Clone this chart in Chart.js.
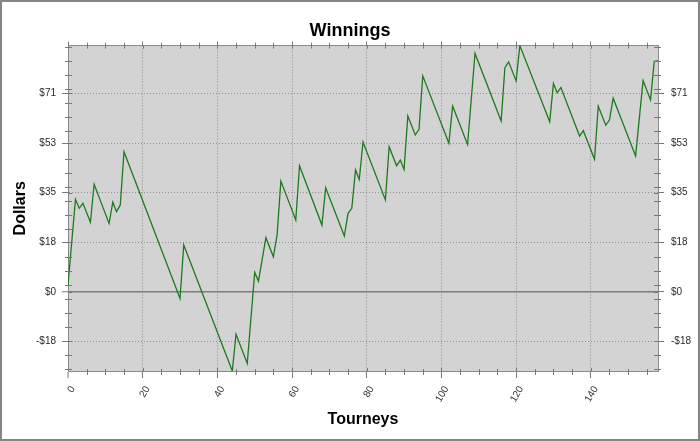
<!DOCTYPE html>
<html>
<head>
<meta charset="utf-8">
<title>Winnings</title>
<script src="https://cdn.jsdelivr.net/npm/chart.js@4.4.1/dist/chart.umd.min.js"></script>
<style>
  html, body { margin: 0; padding: 0; background: #fff; }
  #frame { width: 700px; height: 441px; box-sizing: border-box; border: 2px solid #858585; background: #fff; }
  canvas { display: block; }
</style>
</head>
<body>
<div id="frame"><canvas id="chart" width="696" height="437"></canvas></div>
<script>
// tourney number at each turn of the line and the running total there
const tourneys = [0, 2, 3, 4, 6, 7, 11, 12, 13, 14, 15, 30, 31, 44, 45, 48, 50, 51, 53, 55,
    56, 57, 61, 62, 68, 69, 74, 75, 76, 77, 78, 79, 85, 86, 88, 89, 90, 91, 93, 94,
    95, 102, 103, 107, 109, 116, 117, 118, 120, 121, 129, 130, 131, 132, 137, 138, 141, 142, 144, 145,
    146, 152, 154, 156, 157, 158];
const winnings = [2.4, 33.0, 29.8, 31.6, 24.8, 38.4, 24.4, 32.0, 28.6, 31.0, 50.0, -2.4, 16.7, -28.3, -15.2, -25.6, 6.9, 3.8, 19.3, 12.5,
    20.3, 39.5, 25.6, 45.0, 23.8, 37.1, 19.9, 28.0, 29.8, 43.5, 40.1, 53.5, 32.8, 51.8, 45.0, 47.0, 43.7, 62.8, 56.0, 58.0,
    77.1, 53.0, 66.3, 52.6, 85.1, 61.0, 80.0, 82.1, 75.3, 87.9, 60.7, 74.4, 71.1, 72.9, 55.6, 57.5, 47.3, 66.3, 59.5, 61.3,
    69.1, 48.5, 75.4, 68.5, 82.3, 82.4];

// x axis: labelled ticks and the small ones in between
const xMajor = [0, 20, 40, 60, 80, 100, 120, 140];
const xTickLabels = ['0', '20', '40', '60', '80', '100', '120', '140'];
const xMinor = [5, 10, 15, 25, 30, 35, 45, 50, 55, 65, 70, 75, 85, 90, 95, 105, 110, 115, 125, 130, 135, 145, 150, 155];

// y axis
const yMajor = [-17.7, 0, 17.7, 35.4, 53.1, 70.8];
const yTickLabels = ['-$18', '$0', '$18', '$35', '$53', '$71'];
const yMinor = [-27.5, -22.5, -12.5, -7.5, -2.5, 2.5, 7.5, 12.5, 22.5, 27.5, 32.5, 37.5, 42.5, 47.5,
    57.5, 62.5, 67.5, 72.5, 77.5, 82.5, 87.5];

const X_MIN = 0, X_MAX = 158;
const Y_MIN = -28.3, Y_MAX = 87.9;

const xTicks = xMajor.concat(xMinor).sort((a, b) => a - b);
const yTicks = yMajor.concat(yMinor).sort((a, b) => a - b);

Chart.defaults.font.family = '"Liberation Sans", Arial, sans-serif';

const AXIS = '#8a8a8a';
const TICK = '#777777';

// grey plot area
const plotBackground = {
    id: 'plotBackground',
    beforeDraw(chart) {
        const { ctx, chartArea: a } = chart;
        ctx.save();
        ctx.fillStyle = '#d3d3d3';
        ctx.fillRect(a.left, a.top, a.right - a.left, a.bottom - a.top);
        ctx.restore();
    }
};

// ticks that cross the axis line: inner half of the big ones, and the small ones
const crossTicks = {
    id: 'crossTicks',
    afterDraw(chart) {
        const { ctx, scales } = chart;
        ctx.save();
        ctx.strokeStyle = TICK;
        ctx.lineWidth = 1;
        const marks = (scale, values, out, inn) => {
            values.forEach(v => {
                const p = Math.round(scale.getPixelForValue(v)) + 0.5;
                ctx.beginPath();
                if (scale.position === 'left') {
                    ctx.moveTo(scale.right - out, p); ctx.lineTo(scale.right + inn, p);
                } else if (scale.position === 'right') {
                    ctx.moveTo(scale.left - inn, p); ctx.lineTo(scale.left + out, p);
                } else if (scale.position === 'top') {
                    ctx.moveTo(p, scale.bottom - out); ctx.lineTo(p, scale.bottom + inn);
                } else {
                    ctx.moveTo(p, scale.top - inn); ctx.lineTo(p, scale.top + out);
                }
                ctx.stroke();
            });
        };
        marks(scales.y, yMajor, 0, 4);
        marks(scales.y, yMinor, 3, 4);
        marks(scales.y2, yMajor, 0, 4);
        marks(scales.y2, yMinor, 3, 4);
        marks(scales.x, xMajor, 0, 3);
        marks(scales.x, xMinor, 4, 2);
        marks(scales.x2, xMajor, 0, 3);
        marks(scales.x2, xMinor, 3, 3);
        ctx.restore();
    }
};

const tickVal = (c) => (c && c.tick ? c.tick.value : null);

function gridFor(major, zeroLine) {
    return {
        color: (c) => {
            const v = tickVal(c);
            if (v === null || major.indexOf(v) < 0 || (!zeroLine && v === 0)) return 'rgba(0,0,0,0)';
            if (zeroLine && v === 0) return '#7d7d7d';
            return '#8e8e8e';
        },
        lineWidth: (c) => {
            const v = tickVal(c);
            if (v === null || major.indexOf(v) < 0 || (!zeroLine && v === 0)) return 0;
            return zeroLine && v === 0 ? 1.5 : 1;
        },
        tickColor: (c) => (major.indexOf(tickVal(c)) < 0 ? 'rgba(0,0,0,0)' : TICK),
        tickWidth: 1,
        tickLength: 6
    };
}

const labelFrom = (major, labels) => (v) => {
    const i = major.indexOf(v);
    return i < 0 ? '' : labels[i];
};

new Chart(document.getElementById('chart'), {
    type: 'line',
    data: {
        datasets: [{
            label: 'Winnings',
            data: tourneys.map((t, i) => ({ x: t, y: winnings[i] })),
            borderColor: '#1d7a1d',
            borderWidth: 1.3,
            pointRadius: 0,
            tension: 0,
            fill: false
        }]
    },
    plugins: [plotBackground, crossTicks],
    options: {
        responsive: false,
        animation: false,
        devicePixelRatio: 1,
        layout: { padding: 0 },
        plugins: {
            legend: { display: false },
            tooltip: { enabled: false },
            title: {
                display: true,
                text: 'Winnings',
                color: '#000',
                font: { size: 18, weight: 'bold' },
                padding: { top: 18, bottom: 0 }
            }
        },
        scales: {
            x: {
                type: 'linear',
                position: 'bottom',
                min: X_MIN,
                max: X_MAX,
                afterBuildTicks: (s) => { s.ticks = xTicks.map(v => ({ value: v })); },
                afterFit: (s) => { s.height = 68; },
                ticks: {
                    autoSkip: false,
                    minRotation: 60,
                    maxRotation: 60,
                    padding: 6,
                    labelOffset: 5,
                    color: '#333',
                    font: { size: 10 },
                    callback: labelFrom(xMajor, xTickLabels)
                },
                grid: Object.assign(gridFor(xMajor, false), { tickLength: 7 }),
                border: { color: AXIS, width: 1, dash: [1, 2] },
                title: {
                    display: true,
                    text: 'Tourneys',
                    color: '#000',
                    font: { size: 16, weight: 'bold' },
                    padding: { top: 0, bottom: 10 }
                }
            },
            x2: {
                type: 'linear',
                position: 'top',
                min: X_MIN,
                max: X_MAX,
                afterBuildTicks: (s) => { s.ticks = xTicks.map(v => ({ value: v })); },
                afterFit: (s) => { s.height = 4; },
                ticks: { display: false, autoSkip: false },
                grid: {
                    drawOnChartArea: false,
                    tickColor: (c) => (xMajor.indexOf(tickVal(c)) < 0 ? 'rgba(0,0,0,0)' : TICK),
                    tickWidth: 1,
                    tickLength: 4
                },
                border: { color: AXIS, width: 1 }
            },
            y: {
                type: 'linear',
                position: 'left',
                min: Y_MIN,
                max: Y_MAX,
                afterBuildTicks: (s) => { s.ticks = yTicks.map(v => ({ value: v })); },
                afterFit: (s) => { s.width = 66; },
                ticks: {
                    autoSkip: false,
                    padding: 6,
                    color: '#2b2b2b',
                    font: { size: 10 },
                    callback: labelFrom(yMajor, yTickLabels)
                },
                grid: gridFor(yMajor, true),
                border: { color: AXIS, width: 1, dash: (c) => (tickVal(c) === 0 ? [] : [1, 2]) },
                title: {
                    display: true,
                    text: 'Dollars',
                    color: '#000',
                    font: { size: 16, weight: 'bold' },
                    padding: { top: 9, bottom: 0 }
                }
            },
            y2: {
                type: 'linear',
                position: 'right',
                min: Y_MIN,
                max: Y_MAX,
                afterBuildTicks: (s) => { s.ticks = yTicks.map(v => ({ value: v })); },
                afterFit: (s) => { s.width = 40; },
                ticks: {
                    autoSkip: false,
                    padding: 7,
                    color: '#2b2b2b',
                    font: { size: 10 },
                    callback: labelFrom(yMajor, yTickLabels)
                },
                grid: {
                    drawOnChartArea: false,
                    tickColor: (c) => (yMajor.indexOf(tickVal(c)) < 0 ? 'rgba(0,0,0,0)' : TICK),
                    tickWidth: 1,
                    tickLength: 6
                },
                border: { color: AXIS, width: 1 }
            }
        }
    }
});
</script>
</body>
</html>
